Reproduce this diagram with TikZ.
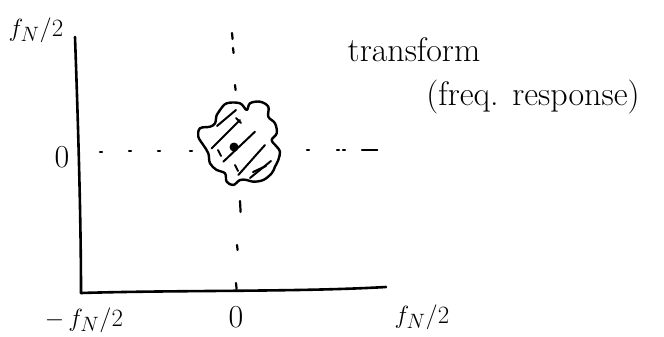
\documentclass[tikz,border=0pt]{standalone}
\usepackage{tikz}
\begin{document}
\begin{tikzpicture}[x=1pt,y=-1pt,
  axis/.style={line width=2.6pt,line cap=round},
  ink/.style={line width=2.4pt,line cap=round,line join=round},
  hatch/.style={line width=2pt,line cap=round},
  dotmark/.style={line width=2.2pt,line cap=round},
  hand/.style={inner sep=0pt,font=\fontsize{34}{40}\selectfont},
  lab/.style={inner sep=0pt,font=\fontsize{28}{32}\selectfont}]
\useasboundingbox (0,0) rectangle (664,337);
% axes
\coordinate (ytop) at (75,37);
\coordinate (origin) at (81,293);
\coordinate (xend) at (386,287);
\draw[axis] (ytop) .. controls (78,120) and (81,220) .. (origin);
\draw[axis] (origin) .. controls (180,290) and (300,292) .. (xend);
% dotted horizontal line
\foreach \x/\y in {100/152,129/151,158/151,190/151,307/150,337/150,343/150,362/150,375/150}
  \draw[dotmark] (\x,\y) -- ++(2,0);
\draw[dotmark] (364,150) -- (377,150);
% dashed vertical line
\foreach \ya/\yb/\xa in {33/39/232,48/53/233,85/90/235,201/212/240,245/250/237,283/289/236}
  \draw[dotmark] (\xa,\ya) -- (\xa+0.6,\yb);
% blob
\draw[ink,fill=white] plot[smooth cycle,tension=0.6] coordinates {
 (220,110) (226.7,103.3) (240,103.3) (246.7,110) (250,103.3) (260,101.7)
 (268.3,106.7) (268.3,116.7) (275,123.3) (276.7,133.3) (271.7,140) (276.7,146.7)
 (280,151.7) (278.3,160) (275,166.7) (271.7,173.3) (263.3,180) (253.3,181.7)
 (246.7,180) (240,180) (233.3,185) (226.7,181.7) (225,173.3) (216.7,170)
 (210,163.3) (208.3,153.3) (203.3,145) (198.3,136.7) (200,128.3) (210,126.7)
 (215,123.3) (216.7,115)};
% hatching
\draw[hatch] (211.7,148.3) -- (240,120);
\draw[hatch] (217,126) -- (236,110);
\draw[hatch] (223.3,161.7) -- (255,131.7);
\draw[hatch] (238.3,175) -- (265,145);
\draw[hatch] (250,178) -- (271,161);
\draw[hatch] (253,172) -- (266,166);
\draw[hatch] (218,150) -- (221,156);
\draw[hatch] (236,118) -- (241,123);
\draw[hatch] (235,165) -- (238,171);
\node[circle,fill=black,inner sep=0pt,minimum size=9pt] (ctr) at (234,147) {};
% labels
\node[lab] (ftop) at (36,30) {$f_N/2$};
\node[lab,font=\fontsize{32}{36}\selectfont] (zl) at (62,157) {0};
\node[lab] (fneg) at (84,320) {$-\,f_N/2$};
\node[lab,font=\fontsize{32}{36}\selectfont] (zb) at (236,317) {0};
\node[lab] (fpos) at (422,317) {$f_N/2$};
\node[hand] (tr) at (414,50) {transform};
\node[hand] (fr) at (533,97) {(freq. response)};
\end{tikzpicture}
\end{document}
